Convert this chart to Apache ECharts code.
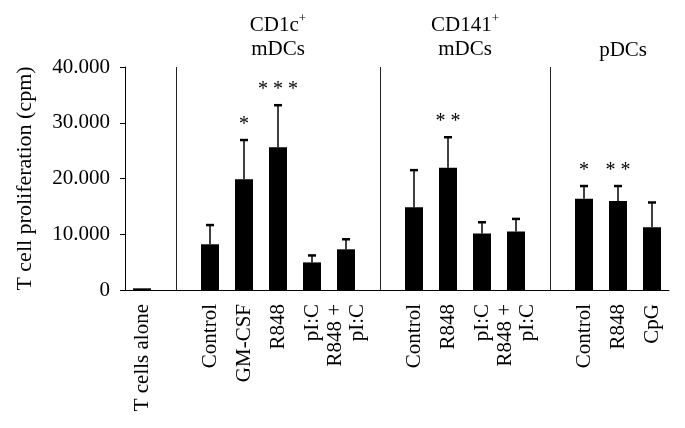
<!DOCTYPE html>
<html>
<head>
<meta charset="utf-8">
<script src="https://cdn.jsdelivr.net/npm/echarts@6/dist/echarts.min.js"></script>
<style>
  html, body { margin: 0; padding: 0; background: #fff; }
  #chart { width: 685px; height: 428px; }
</style>
</head>
<body>
<div id="chart"></div>
<script>
// categories along the x axis, blank ones are the group separators
var categories = ['T cells alone', '', 'Control', 'GM-CSF', 'R848', 'pI:C', 'R848 +\npI:C', '',
  'Control', 'R848', 'pI:C', 'R848 +\npI:C', '', 'Control', 'R848', 'CpG']
// mean proliferation (cpm)
var means = [300, null, 8200, 19850, 25600, 4950, 7300, null,
  14850, 21950, 10150, 10500, null, 16350, 15950, 11250]
// top of error bar (cpm)
var errTops = [null, null, 11650, 26900, 33150, 6200, 9100, null,
  21500, 27400, 12150, 12750, null, 18650, 18650, 15700]
// significance marks
var stars = ['', '', '', '*', '* * *', '', '', '', '', '* *', '', '', '', '*', '* *', '']
var separators = [1, 7, 12]
var groupNames = ['{a|CD1c}{s|+}\n{a|mDCs}', '{a|CD141}{s|+}\n{a|mDCs}', '{a|pDCs}']
var groupCenters = [4, 9.5, 14.15]
var yTicks = [0, 10000, 20000, 30000, 40000]

var FONT = 'Liberation Serif'

var errData = []
errTops.forEach(function (v, i) {
  if (v != null) errData.push([i, means[i], v])
})

var myChart = echarts.init(document.getElementById('chart'))
myChart.setOption({
  animation: false,
  grid: { left: 125, right: 16, top: 67, bottom: 138 },
  xAxis: {
    type: 'category',
    data: categories,
    boundaryGap: true,
    axisLine: { lineStyle: { color: '#000', width: 1 } },
    axisTick: { alignWithLabel: true, length: 4, lineStyle: { color: '#000' } },
    axisLabel: {
      interval: 0,
      rotate: 90,
      margin: 14,
      color: '#000',
      fontFamily: FONT,
      fontSize: 21,
      lineHeight: 22
    }
  },
  yAxis: {
    type: 'value',
    min: yTicks[0],
    max: yTicks[yTicks.length - 1],
    interval: 10000,
    name: 'T cell proliferation (cpm)',
    nameLocation: 'middle',
    nameGap: 89,
    nameTextStyle: { color: '#000', fontFamily: FONT, fontSize: 22 },
    axisLine: { show: true, lineStyle: { color: '#000', width: 1 } },
    axisTick: { show: true, length: 5, lineStyle: { color: '#000' } },
    splitLine: { show: false },
    axisLabel: {
      margin: 15,
      color: '#000',
      fontFamily: FONT,
      fontSize: 21,
      formatter: function (v) {
        return v === 0 ? '0' : (v / 1000).toFixed(0) + '.000'
      }
    }
  },
  series: [
    {
      name: 'mean',
      type: 'bar',
      barWidth: 18,
      itemStyle: { color: '#000' },
      data: means,
      markLine: {
        silent: true,
        symbol: 'none',
        label: { show: false },
        lineStyle: { color: '#222', width: 1, type: 'solid' },
        data: separators.map(function (i) { return { xAxis: i } })
      }
    },
    {
      name: 'error',
      type: 'custom',
      z: 5,
      encode: { x: 0, y: [1, 2] },
      data: errData,
      renderItem: function (params, api) {
        var idx = api.value(0)
        var p0 = api.coord([idx, api.value(1)])
        var p1 = api.coord([idx, api.value(2)])
        var children = [
          { type: 'line', shape: { x1: p0[0], y1: p0[1], x2: p1[0], y2: p1[1] }, style: { stroke: '#000', lineWidth: 1.5 } },
          { type: 'line', shape: { x1: p1[0] - 4, y1: p1[1], x2: p1[0] + 4, y2: p1[1] }, style: { stroke: '#000', lineWidth: 2.5 } }
        ]
        if (stars[idx]) {
          children.push({
            type: 'text',
            style: {
              text: stars[idx],
              x: p1[0],
              y: p1[1] - 5,
              align: 'center',
              verticalAlign: 'bottom',
              fontFamily: FONT,
              fontSize: 20,
              fill: '#000'
            }
          })
        }
        return { type: 'group', children: children }
      }
    }
  ]
})

// group headers above the plot
var headers = groupNames.map(function (t, k) {
  var c = groupCenters[k]
  var a = myChart.convertToPixel({ xAxisIndex: 0 }, Math.floor(c))
  var b = myChart.convertToPixel({ xAxisIndex: 0 }, Math.ceil(c))
  var x = a + (b - a) * (c - Math.floor(c))
  return {
    type: 'text',
    x: x,
    y: k < 2 ? 37 : 50,
    style: {
      text: t,
      align: 'center',
      verticalAlign: 'middle',
      fill: '#000',
      rich: {
        a: { fontFamily: FONT, fontSize: 21, lineHeight: 24, color: '#000' },
        s: { fontFamily: FONT, fontSize: 13, padding: [0, 0, 12, 0], color: '#000' }
      }
    }
  }
})
myChart.setOption({ graphic: headers })
</script>
</body>
</html>
